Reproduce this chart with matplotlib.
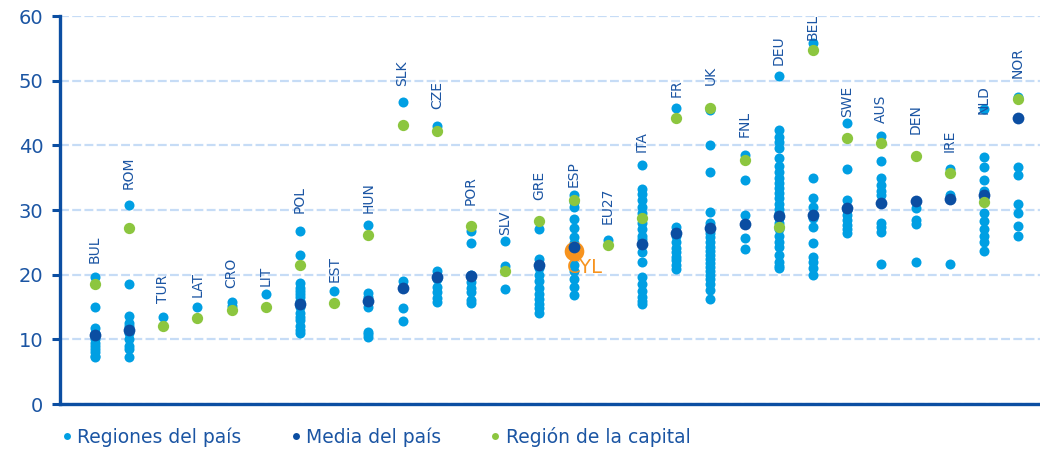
import numpy as np
import matplotlib
matplotlib.use("Agg")
import matplotlib.pyplot as plt
from matplotlib.lines import Line2D

# Countries (x order)
countries = ["BUL", "ROM", "TUR", "LAT", "CRO", "LIT", "POL", "EST", "HUN", "SLK",
             "CZE", "POR", "SLV", "GRE", "ESP", "EU27", "ITA", "FR", "UK", "FNL",
             "DEU", "BEL", "SWE", "AUS", "DEN", "IRE", "NLD", "NOR"]

# Regional values per country
regions = [
    [19.7, 15.0, 11.8, 11.0, 10.0, 9.5, 9.0, 8.5, 8.0, 7.5, 7.2],
    [30.7, 18.6, 13.6, 12.5, 12.0, 11.0, 10.0, 9.0, 8.5, 7.3],
    [13.5],
    [15.0],
    [15.7, 15.2],
    [17.0],
    [26.8, 23.1, 18.7, 18.0, 17.5, 17.0, 16.5, 15.9, 15.0, 14.0, 13.5, 13.0, 12.0, 11.5, 11.0],
    [17.4],
    [27.7, 17.2, 16.5, 15.0, 11.2, 10.8, 10.3],
    [46.7, 19.0, 14.8, 12.9],
    [43.0, 20.5, 19.3, 18.1, 17.3, 16.4, 15.8],
    [26.8, 24.9, 19.9, 18.9, 18.0, 17.3, 16.1, 15.6],
    [25.2, 21.4, 17.8],
    [27.0, 22.5, 21.0, 20.0, 19.0, 18.0, 17.0, 16.3, 15.5, 14.8, 14.0],
    [32.3, 31.3, 30.5, 28.6, 27.2, 25.9, 24.9, 22.8, 21.5, 20.5, 19.3, 18.1, 16.9],
    [25.3],
    [37.0, 33.3, 32.5, 31.5, 30.5, 29.5, 28.0, 27.0, 26.0, 25.5, 23.5, 22.0, 19.7, 18.5,
     17.5, 16.5, 16.0, 15.5],
    [45.7, 27.4, 26.0, 25.0, 24.2, 23.5, 22.8, 22.2, 21.5, 20.8],
    [45.5, 40.0, 35.9, 29.7, 28.0, 26.5, 25.8, 25.0, 24.3, 23.6, 23.0, 22.4, 21.8, 21.2,
     20.6, 20.0, 19.3, 18.6, 17.6, 16.2],
    [38.5, 34.6, 29.2, 25.6, 23.9],
    [50.7, 42.4, 41.3, 40.5, 39.6, 38.1, 36.8, 35.8, 35.0, 34.2, 33.4, 32.6, 31.8, 31.0,
     30.2, 29.5, 28.8, 28.0, 27.0, 26.0, 25.0, 24.3, 23.0, 22.0, 21.4, 21.0],
    [55.9, 34.9, 31.8, 30.4, 28.8, 27.4, 24.9, 22.8, 22.0, 21.0, 20.0],
    [43.4, 36.4, 31.5, 30.0, 29.3, 28.5, 27.7, 27.0, 26.4],
    [41.4, 37.6, 34.9, 33.8, 33.0, 32.3, 28.0, 27.3, 26.6, 21.7],
    [31.4, 30.3, 28.4, 27.8, 22.0],
    [36.4, 32.3, 21.6],
    [45.6, 38.2, 36.6, 34.6, 33.0, 31.8, 29.5, 28.3, 27.0, 26.0, 25.0, 23.6],
    [47.4, 36.6, 35.4, 30.9, 29.6, 27.6, 26.0],
]

nan = np.nan
country_mean = [10.7, 11.4, nan, nan, nan, nan, 15.4, nan, 16.0, 17.9,
                19.6, 19.8, nan, 21.5, 24.3, nan, 24.8, 26.5, 27.2, 27.8,
                29.1, 29.3, 30.3, 31.1, 31.4, 31.7, 32.3, 44.3]

capital = [18.5, 27.2, 12.1, 13.3, 14.5, 15.0, 21.5, 15.6, 26.2, 43.1,
           42.2, 27.5, 20.6, 28.3, 31.6, 24.6, 28.7, 44.3, 45.8, 37.8,
           27.4, 54.7, 41.2, 40.4, 38.4, 35.7, 31.3, 47.1]

# Castilla y León
cyl_value = 23.7

# Where each country name sits (value at label base)
label_y = [21.8, 33.2, 15.6, 16.6, 17.9, 18.2, 29.5, 18.8, 29.5, 49.2,
           45.6, 30.8, 26.1, 31.5, 33.5, 27.8, 39.0, 47.5, 49.3, 41.3,
           52.4, 56.3, 44.4, 43.5, 41.7, 38.9, 44.8, 50.4]

light_blue = "#009fe3"
dark_blue = "#0b4ea2"
green = "#8cc63f"
orange = "#f7931e"
text_blue = "#1b55a3"
grid_col = "#c6dcf6"

fig = plt.figure(figsize=(10.4, 4.5), dpi=100)
ax = fig.add_axes([60 / 1040, 46 / 450, 980 / 1040, 388 / 450])

for i, vals in enumerate(regions):
    ax.scatter(np.full(len(vals), i), vals, s=52, color=light_blue, lw=0, zorder=3)

x = np.arange(len(countries))
esp = countries.index("ESP")
ax.scatter([esp], [cyl_value], s=200, color=orange, lw=0, zorder=4)
ax.scatter(x, country_mean, s=72, color=dark_blue, lw=0, zorder=5)
ax.scatter(x, capital, s=66, color=green, lw=0, zorder=6)

for i, name in enumerate(countries):
    ax.text(i, label_y[i], name, rotation=90, ha="center", va="bottom",
            fontsize=10, color=text_blue, zorder=7, clip_on=False)

ax.text(esp - 0.2, 22.6, "CYL", ha="left", va="top", fontsize=14,
        color=orange, zorder=7)

ax.set_xlim(-1.02, 27.64)
ax.set_ylim(0, 60)
ax.set_yticks(range(0, 61, 10))
ax.set_xticks([])
ax.yaxis.grid(True, color=grid_col, lw=1.6, ls=(0, (4, 1.5)), zorder=1)
ax.set_axisbelow(True)

for side in ["top", "right"]:
    ax.spines[side].set_visible(False)
for side in ["left", "bottom"]:
    ax.spines[side].set_color(dark_blue)
    ax.spines[side].set_linewidth(2.4)
ax.tick_params(axis="y", colors=dark_blue, labelsize=14, length=6, width=2.2, pad=6)
for lab in ax.get_yticklabels():
    lab.set_color(text_blue)

handles = [
    Line2D([], [], marker="o", ls="none", color=light_blue, markersize=5, mew=0),
    Line2D([], [], marker="o", ls="none", color=dark_blue, markersize=5, mew=0),
    Line2D([], [], marker="o", ls="none", color=green, markersize=5, mew=0),
]
fig.legend(handles, ["Regiones del país", "Media del país", "Región de la capital"],
           loc="center left", bbox_to_anchor=(61 / 1040, 1 - 437 / 450), ncol=3,
           frameon=False, fontsize=13.5, handlelength=0.6, handletextpad=0.25,
           columnspacing=2.6, borderpad=0, borderaxespad=0, labelcolor=text_blue)

fig.savefig("out.png", dpi=100)
